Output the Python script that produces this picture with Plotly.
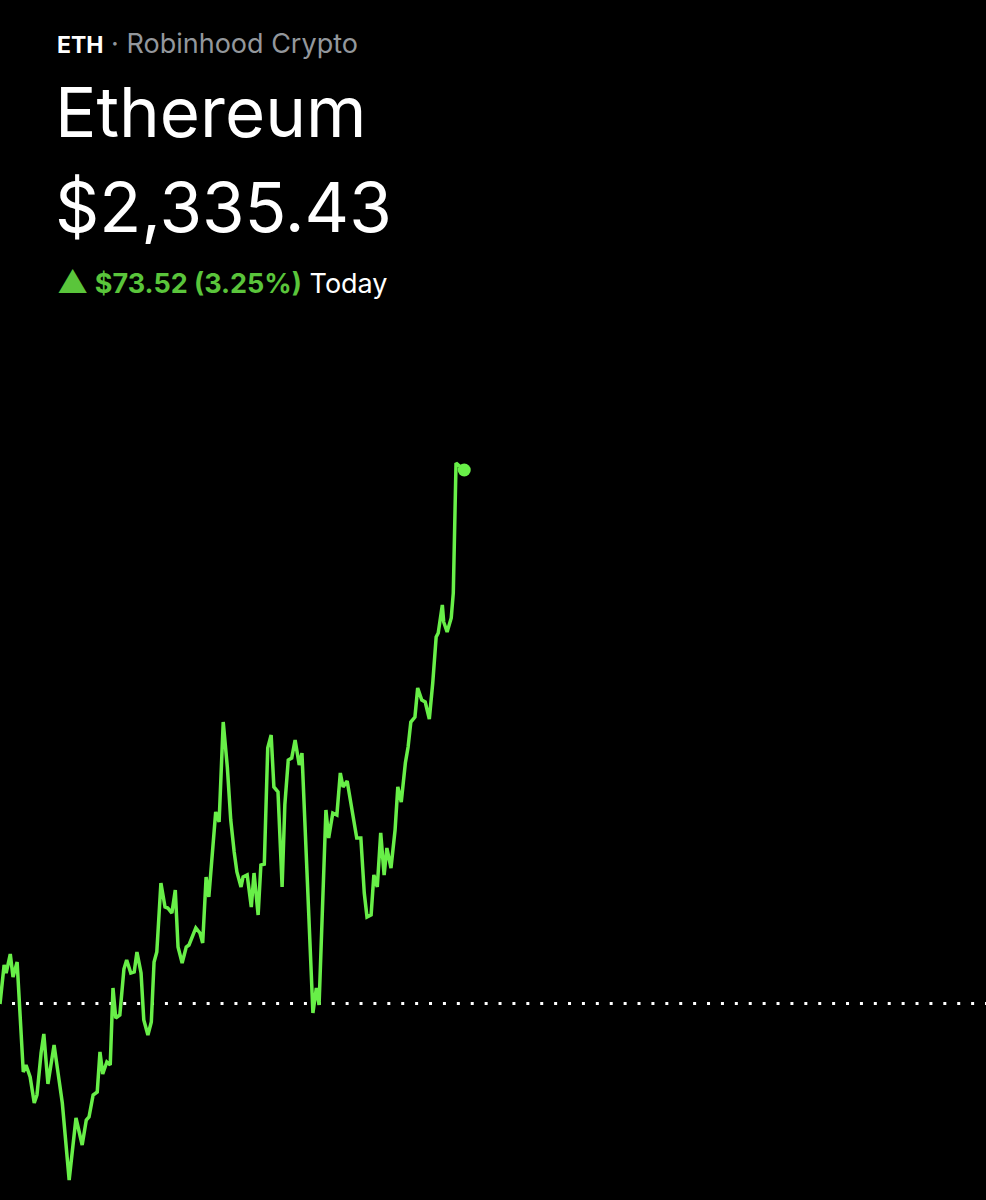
import plotly.graph_objects as go

# ---- data ----
symbol = "ETH"
exchange = "Robinhood Crypto"
name = "Ethereum"
current_price = 2335.43
change_abs = 73.52
change_pct = 3.25
period_label = "Today"

minutes = [0, 6, 9, 15, 19, 25, 34, 38, 44, 50, 54, 60, 64, 70, 79, 91, 101, 111, 120, 126,
           130, 136, 142, 146, 150, 156, 161, 165, 169, 175, 181, 185, 191, 196, 200, 206, 210, 216, 221, 225,
           229, 235, 241, 245, 251, 256, 260, 266, 272, 276, 286, 292, 296, 301, 305, 311, 315, 320, 326, 332,
           337, 342, 346, 352, 355, 361, 367, 371, 377, 381, 386, 391, 396, 400, 406, 412, 416, 421, 426, 431,
           437, 441, 457, 462, 466, 476, 480, 486, 492, 497, 501, 507, 516, 521, 527, 532, 536, 542, 546, 551,
           556, 561, 565, 571, 577, 581, 586, 592, 596, 600, 606, 610, 616, 621, 627, 632, 637, 640, 646, 648,
           653, 659, 662, 666, 678]

prices = [2261.84, 2267.22, 2266.11, 2268.73, 2265.56, 2267.63, 2252.47, 2253.43, 2251.78, 2248.20,
          2249.30, 2255.09, 2257.71, 2250.82, 2256.19, 2248.20, 2237.59, 2246.13, 2242.41, 2245.86,
          2246.27, 2249.30, 2249.71, 2255.23, 2252.19, 2253.85, 2253.43, 2264.05, 2259.91, 2260.33,
          2266.66, 2267.90, 2266.11, 2266.25, 2269.01, 2266.11, 2259.64, 2257.57, 2259.36, 2267.63,
          2269.01, 2278.52, 2275.21, 2275.07, 2274.38, 2277.55, 2269.70, 2267.49, 2269.70, 2269.97,
          2272.32, 2271.63, 2270.25, 2279.34, 2276.59, 2283.48, 2288.30, 2286.92, 2300.70, 2294.50,
          2287.20, 2282.79, 2280.03, 2277.97, 2279.34, 2279.62, 2275.21, 2279.89, 2274.11, 2281.00,
          2281.13, 2297.12, 2298.91, 2291.75, 2291.06, 2277.97, 2289.27, 2295.47, 2295.74, 2298.22,
          2294.78, 2296.43, 2260.60, 2264.05, 2261.70, 2288.58, 2284.72, 2288.16, 2287.89, 2293.68,
          2291.75, 2292.57, 2287.20, 2284.72, 2284.72, 2277.14, 2273.83, 2274.11, 2279.62, 2277.97,
          2285.41, 2279.62, 2283.34, 2280.58, 2285.82, 2291.75, 2289.68, 2295.05, 2297.26, 2300.70,
          2301.39, 2305.39, 2303.74, 2303.46, 2301.12, 2306.08, 2312.42, 2312.97, 2316.83, 2314.49,
          2313.11, 2315.04, 2318.48, 2336.40, 2335.43]

prev_close = round(current_price - change_abs, 2)

# ---- style ----
LINE_GREEN = "#68ef48"
TEXT_GREEN = "#5ac53b"
FONT = "Inter, 'Liberation Sans', sans-serif"

fig = go.Figure()
fig.add_trace(go.Scatter(x=minutes, y=prices, mode="lines",
                         line=dict(color=LINE_GREEN, width=3.5), hoverinfo="skip"))
fig.add_trace(go.Scatter(x=[minutes[-1]], y=[prices[-1]], mode="markers",
                         marker=dict(color=LINE_GREEN, size=13), hoverinfo="skip"))

fig.add_shape(type="line", xref="paper", yref="y", x0=0.0122, x1=1.0,
              y0=prev_close, y1=prev_close,
              line=dict(color="white", width=3, dash="3px,10.9px"), layer="below")

PLOT_TOP = 400
PLOT_H = 1200 - PLOT_TOP


def py(pix):
    return (1200 - pix) / PLOT_H


fig.add_annotation(xref="paper", yref="paper", x=55 / 986, y=py(43), xanchor="left", yanchor="middle",
                   text=(f"<b>{symbol}</b><span style='color:#93979c;font-size:27px'>"
                         f" · {exchange}</span>"),
                   showarrow=False, font=dict(family=FONT, size=23, color="white"))
fig.add_annotation(xref="paper", yref="paper", x=53 / 986, y=py(112), xanchor="left", yanchor="middle",
                   text=name, showarrow=False, font=dict(family=FONT, size=69, color="white"))
fig.add_annotation(xref="paper", yref="paper", x=53 / 986, y=py(207), xanchor="left", yanchor="middle",
                   text=f"${current_price:,.2f}", showarrow=False,
                   font=dict(family=FONT, size=69, color="white"))
fig.add_annotation(xref="paper", yref="paper", x=55 / 986, y=py(281), xanchor="left", yanchor="middle",
                   text=(f"<span style='color:{TEXT_GREEN}'><span style='font-size:31px'>▲</span>"
                         f"<b> ${change_abs:,.2f} ({change_pct:.2f}%)</b></span>"
                         f" {period_label}"),
                   showarrow=False, font=dict(family=FONT, size=27, color="white"))

fig.update_layout(
    width=986, height=1200,
    paper_bgcolor="black", plot_bgcolor="black",
    margin=dict(l=0, r=0, t=PLOT_TOP, b=0),
    showlegend=False,
    xaxis=dict(range=[0, 1440], visible=False, fixedrange=True),
    yaxis=dict(range=[2234.83, 2345.08], visible=False, fixedrange=True),
)

fig.write_html("out.html", config={"displayModeBar": False},
               post_script="document.body.style.margin='0';document.body.style.background='black';")
